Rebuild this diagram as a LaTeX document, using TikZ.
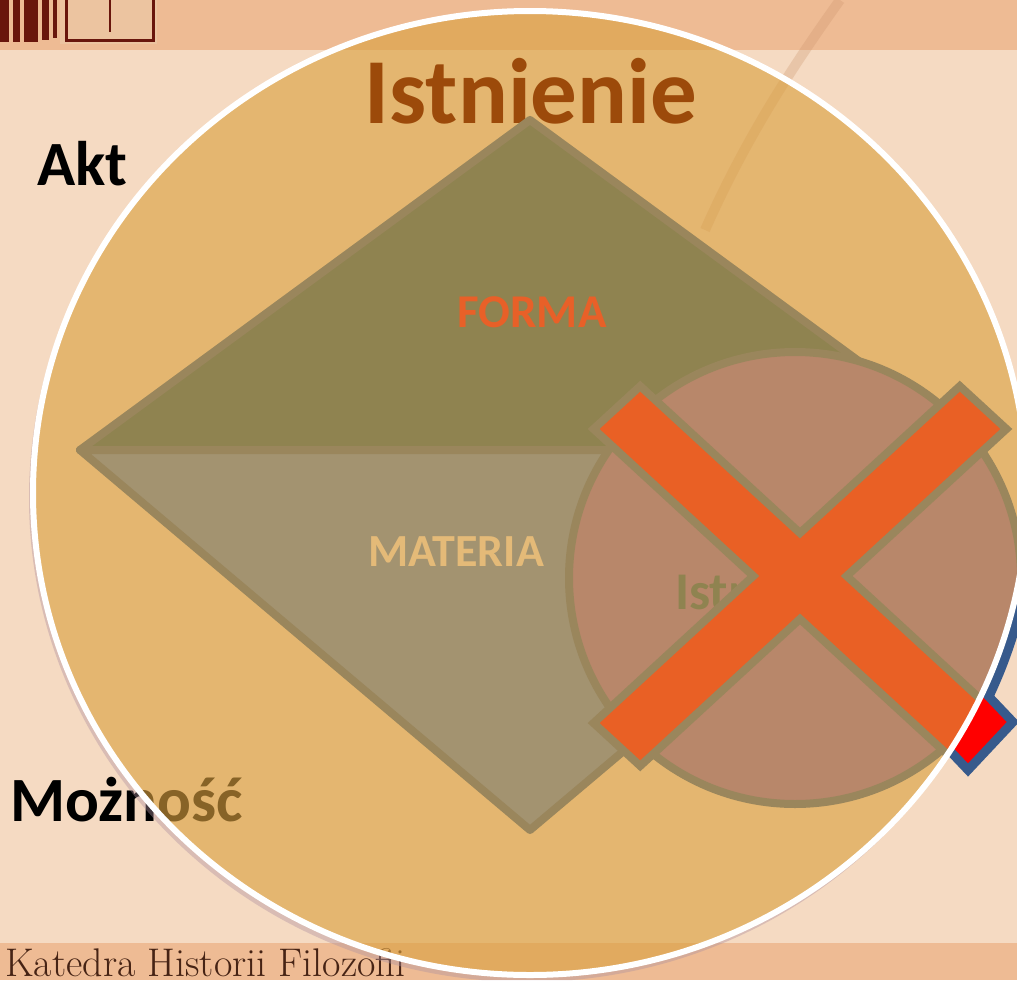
\documentclass[tikz,border=0pt]{standalone}
\usepackage{fontspec}
\usepackage{tikz}
\newfontfamily\carlito{Carlito}
\definecolor{bgLight}{RGB}{245,218,194}
\definecolor{bgBand}{RGB}{238,187,148}
\definecolor{maroon}{RGB}{105,22,12}
\definecolor{panelTan}{RGB}{236,196,160}
\definecolor{katBrown}{RGB}{70,35,20}
\definecolor{mapLine}{RGB}{205,150,110}
\definecolor{shadeTint}{RGB}{175,145,160}
\definecolor{ellFill}{RGB}{218,160,63}
\definecolor{titleBrown}{RGB}{156,74,10}
\definecolor{formaOlive}{RGB}{143,131,80}
\definecolor{materiaTan}{RGB}{163,147,112}
\definecolor{edgeTan}{RGB}{154,134,92}
\definecolor{formaOrange}{RGB}{232,96,40}
\definecolor{materiaText}{RGB}{228,186,120}
\definecolor{circleFill}{RGB}{184,135,106}
\definecolor{xOrange}{RGB}{233,96,37}
\definecolor{blueEdge}{RGB}{55,90,140}

\begin{document}
\begin{tikzpicture}[x=1pt, y=-1pt, inner sep=0pt,
  edge/.style={draw=edgeTan, line width=8pt, line join=round},
  word/.style={font=\carlito\bfseries\fontsize{#1}{#1}\selectfont}]
  \useasboundingbox (0,0) rectangle (1017,980);

  % background of the slide
  \fill[bgLight] (0,0) rectangle (1017,980);
  \fill[bgBand] (0,0) rectangle (1017,50);
  \fill[bgBand] (0,943) rectangle (1017,980);
  \draw[mapLine, opacity=.3, line width=10pt] (840,0) .. controls (790,70) and (745,140) .. (705,230);

  % picture in the corner
  \fill[panelTan] (60,0) rectangle (157,44);
  \fill[maroon] (0,0) rectangle (9,42);
  \fill[maroon] (13,0) rectangle (20,42);
  \fill[maroon] (24,0) rectangle (38,42);
  \fill[maroon] (42,0) rectangle (49,40);
  \fill[maroon] (53,0) rectangle (57,38);
  \draw[maroon, line width=3pt] (66,0) -- (66,40) -- (153,40) -- (153,0);
  \draw[maroon, line width=2pt] (110,0) -- (110,32);

  \node[anchor=base west, text=katBrown, font=\fontsize{40}{40}\selectfont] (katedra) at (5,976) {Katedra Historii Filozofii};

  \node[word=63, anchor=base west] (akt) at (37,185) {Akt};
  \node[word=63, anchor=base west] (moznosc) at (10,821) {Możność};

  % things behind the big circle
  \begin{scope}[even odd rule]
    \clip (0,0) rectangle (1017,980) (530,493) ellipse [x radius=497, y radius=482];
    \fill[shadeTint, opacity=.4] (527,498) ellipse [x radius=498, y radius=484];
    \begin{scope}
      \clip (950,585) rectangle (1017,705);
      \draw[blueEdge, line width=10pt] (530,493) ellipse [x radius=504, y radius=489];
    \end{scope}
    \filldraw[fill=red, draw=blueEdge, line width=9pt] (968,770) -- (1013,722) -- (900,603) -- (855,651) -- cycle;
  \end{scope}

  \fill[ellFill, opacity=.62] (530,493) ellipse [x radius=497, y radius=482];

  \begin{scope}
    \clip (530,493) ellipse [x radius=497, y radius=482];
    \node[word=93, anchor=base, text=titleBrown] (istnienie) at (531,123) {Istnienie};

    % forma / materia
    \coordinate (top) at (530,120);
    \coordinate (left) at (80,450);
    \coordinate (bottom) at (530,830);
    \coordinate (right) at (980,450);
    \filldraw[edge, fill=formaOlive] (top) -- (left) -- (right) -- cycle;
    \filldraw[edge, fill=materiaTan] (left) -- (bottom) -- (right) -- cycle;
    \node[word=47, anchor=base, text=formaOrange] (forma) at (532,327) {FORMA};
    \node[word=46, anchor=base, text=materiaText] (materia) at (456,566) {MATERIA};

    % crossed out
    \filldraw[edge, fill=circleFill] (795,578) circle [radius=226];
    \node[word=53, anchor=base west, text=formaOlive] (istsmall) at (675,609) {Istnienie};
    \begin{scope}[shift={(800,576)}, yscale=0.92]
      \filldraw[edge, fill=xOrange, line join=miter] (0,-46.7) -- (159.8,-206.4) -- (206.4,-159.8) -- (46.7,0)
        -- (206.4,159.8) -- (159.8,206.4) -- (0,46.7) -- (-159.8,206.4) -- (-206.4,159.8)
        -- (-46.7,0) -- (-206.4,-159.8) -- (-159.8,-206.4) -- cycle;
    \end{scope}
  \end{scope}

  \draw[white, line width=6pt] (530,493) ellipse [x radius=497, y radius=482];
\end{tikzpicture}
\end{document}
